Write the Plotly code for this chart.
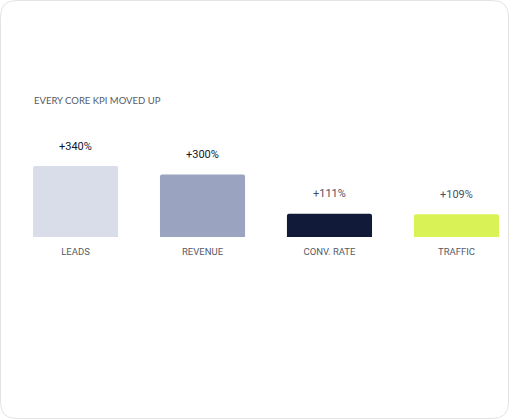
import plotly.graph_objects as go

categories = ["LEADS", "REVENUE", "CONV. RATE", "TRAFFIC"]
values = [340, 300, 111, 109]
value_labels = ["+340%", "+300%", "+111%", "+109%"]
bar_colors = ["#d8dde9", "#9aa3c0", "#111a38", "#d9f255"]
label_colors = ["#0f1630", "#0f1630", "#4a5064", "#4a5064"]
title_text = "EVERY CORE KPI MOVED UP"

W, H = 510, 420
ML, MR, MT, MB = 33, 11, 60, 183
PW, PH = W - ML - MR, H - MT - MB
YMAX = PH / 0.2085

NARROW = "Roboto, sans-serif"
TITLE_FONT = "Lato, sans-serif"

fig = go.Figure()
fig.add_trace(go.Bar(
    x=categories, y=values,
    marker=dict(color=bar_colors, cornerradius=2, line=dict(width=0)),
    width=0.67, hoverinfo="skip",
))

for c, v, t, col in zip(categories, values, value_labels, label_colors):
    fig.add_annotation(x=c, y=v, text=t, showarrow=False, yshift=20,
                       xanchor="center", yanchor="middle",
                       font=dict(size=11, color=col, family=NARROW))

fig.add_annotation(xref="paper", yref="paper", x=0, y=(MT + PH - 100) / PH,
                   text=title_text, showarrow=False, xanchor="left", yanchor="middle",
                   xshift=-1,
                   font=dict(size=9.5, color="#555a66", family=TITLE_FONT))

def px(x):
    return (x - ML) / PW

def py(y):
    return (MT + PH - y) / PH

r = 16
x0, x1, y0, y1 = 0.5, W - 1.5, 0.5, H - 1.5
pts = [
    f"M {px(x0 + r)},{py(y0)}",
    f"L {px(x1 - r)},{py(y0)}",
    f"Q {px(x1)},{py(y0)} {px(x1)},{py(y0 + r)}",
    f"L {px(x1)},{py(y1 - r)}",
    f"Q {px(x1)},{py(y1)} {px(x1 - r)},{py(y1)}",
    f"L {px(x0 + r)},{py(y1)}",
    f"Q {px(x0)},{py(y1)} {px(x0)},{py(y1 - r)}",
    f"L {px(x0)},{py(y0 + r)}",
    f"Q {px(x0)},{py(y0)} {px(x0 + r)},{py(y0)}",
    "Z",
]
fig.add_shape(type="path", xref="paper", yref="paper", path=" ".join(pts),
              line=dict(color="#e3e3e6", width=1), layer="below")

fig.update_layout(
    width=W, height=H,
    margin=dict(l=ML, r=MR, t=MT, b=MB),
    paper_bgcolor="white", plot_bgcolor="white",
    showlegend=False,
    xaxis=dict(range=[-0.335, 3.335], showgrid=False, zeroline=False, showline=False,
               ticks="", ticklabelstandoff=7,
               tickfont=dict(size=9.5, color="#555a66", family=NARROW),
               fixedrange=True),
    yaxis=dict(range=[0, YMAX], visible=False, fixedrange=True),
)

fig.write_html("out.html", config={"displayModeBar": False},
               post_script="document.body.style.margin='0';document.body.style.padding='0';")
